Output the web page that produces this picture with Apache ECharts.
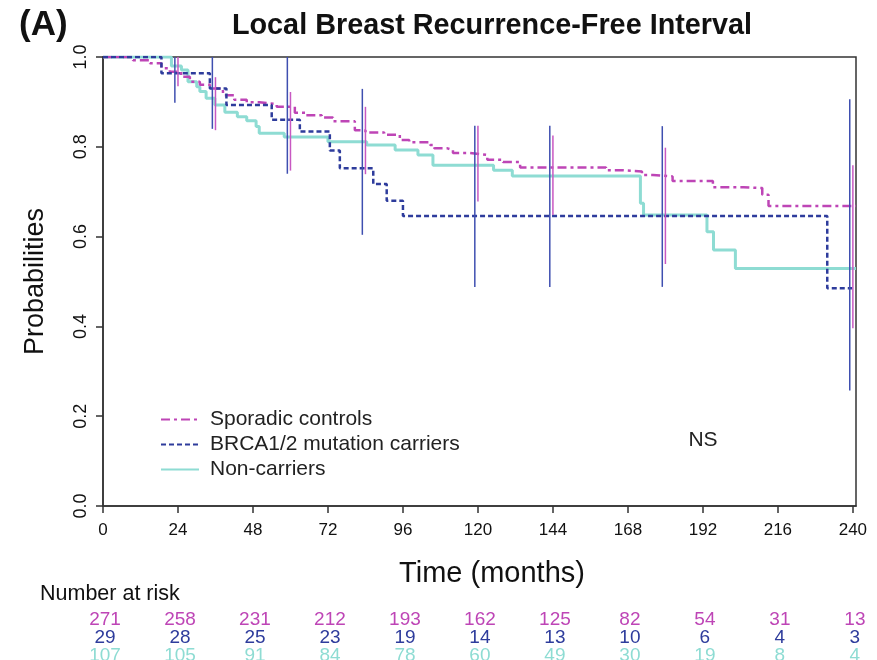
<!DOCTYPE html>
<html>
<head>
<meta charset="utf-8">
<script src="https://cdn.jsdelivr.net/npm/echarts@6/dist/echarts.min.js"></script>
<style>
html,body{margin:0;padding:0;background:#fff;}
#chart{width:877px;height:660px;}
</style>
</head>
<body>
<div id="chart"></div>
<script>
// ---- data ----
const seriesNames = ['Sporadic controls', 'BRCA1/2 mutation carriers', 'Non-carriers'];
const xTicks = [0, 24, 48, 72, 96, 120, 144, 168, 192, 216, 240];
const yTicks = [0, 0.2, 0.4, 0.6, 0.8, 1.0];

// Kaplan-Meier steps: [time, survival from that time on]
const sporadicKM = [[0,1],[9.6,0.993],[15,0.986],[18.7,0.975],[21.4,0.967],[25,0.956],[27.8,0.945],[31,0.938],[34.2,0.93],[38.4,0.915],[42,0.905],[46,0.899],[50,0.895],[55.6,0.889],[61.4,0.876],[65,0.870],[70,0.865],[73.6,0.857],[80.6,0.837],[84,0.832],[90,0.827],[95,0.815],[98,0.810],[104.7,0.804],[106,0.797],[110,0.793],[112,0.786],[117.5,0.782],[123,0.771],[128,0.766],[133.5,0.754],[161,0.748],[166,0.745],[172.5,0.737],[176,0.734],[182.3,0.724],[195.2,0.710],[205,0.708],[211,0.693],[213,0.668],[241,0.668]];
const brcaKM = [[0,1],[18.7,0.964],[34.2,0.930],[39.5,0.893],[54,0.860],[63,0.834],[72.6,0.792],[75.8,0.752],[86.5,0.717],[90.8,0.680],[96,0.646],[231.8,0.485],[239.8,0.485]];
const nonCarrierKM = [[0,1],[21.9,0.980],[25.1,0.971],[27.2,0.945],[30,0.934],[31,0.923],[33,0.908],[35.8,0.893],[39,0.877],[43,0.867],[46,0.858],[49,0.845],[50,0.830],[58,0.822],[72,0.811],[84.4,0.804],[93.5,0.793],[100.8,0.782],[105.6,0.759],[125,0.748],[131,0.735],[172,0.674],[173,0.648],[193.3,0.611],[195.4,0.570],[202.4,0.529],[241,0.529]];

// confidence-interval bars: [time, lower, upper]
const brcaCI = [[23,0.898,1.0],[35,0.840,1.0],[59,0.740,1.0],[83,0.604,0.929],[119,0.488,0.847],[143,0.488,0.847],[179,0.488,0.846],[239,0.257,0.906]];
const sporadicCI = [[24,0.935,1.0],[36,0.837,0.955],[60,0.747,0.922],[84,0.739,0.889],[120,0.678,0.847],[144,0.648,0.825],[180,0.539,0.798],[240,0.396,0.759]];

// number at risk
const riskTimes = [0, 24, 48, 72, 96, 120, 144, 168, 192, 216, 240];
const riskSporadic = [271, 258, 231, 212, 193, 162, 125, 82, 54, 31, 13];
const riskBrca = [29, 28, 25, 23, 19, 14, 13, 10, 6, 4, 3];
const riskNon = [107, 105, 91, 84, 78, 60, 49, 30, 19, 8, 4];

// ---- styles ----
const FONT = '"Liberation Sans", Arial, Helvetica, sans-serif';
const C_SPOR = '#BE45B6';
const C_BRCA = '#2E3C9C';
const C_NON = '#8EDCD3';
const C_AXIS = '#333333';

const chart = echarts.init(document.getElementById('chart'), null, {renderer: 'canvas'});

function ciSeries(name, data, color) {
  return {
    name: name, type: 'custom', data: data, z: 5,
    encode: {x: 0, y: [1, 2]},
    renderItem: function (params, api) {
      const p1 = api.coord([api.value(0), api.value(1)]);
      const p2 = api.coord([api.value(0), api.value(2)]);
      return {type: 'line', shape: {x1: p1[0], y1: p1[1], x2: p2[0], y2: p2[1]},
              style: {stroke: color, lineWidth: 1.5}};
    }
  };
}

const option = {
  backgroundColor: '#ffffff',
  animation: false,
  grid: {left: 103, right: 21, top: 57, bottom: 154, show: true, borderColor: C_AXIS, borderWidth: 1.5, backgroundColor: 'transparent'},
  xAxis: {
    type: 'value', min: 0, max: 241, interval: 24,
    name: 'Time (months)', nameLocation: 'middle', nameGap: 53,
    nameTextStyle: {fontFamily: FONT, fontSize: 29, color: '#111', padding: [0, 0, 0, 25]},
    axisLine: {show: true, lineStyle: {color: C_AXIS, width: 1.5}},
    axisTick: {show: true, length: 7, customValues: xTicks, lineStyle: {color: C_AXIS, width: 1.5}},
    axisLabel: {customValues: xTicks, margin: 16, fontFamily: FONT, fontSize: 17, color: '#111'},
    splitLine: {show: false}
  },
  yAxis: {
    type: 'value', min: 0, max: 1, interval: 0.2,
    name: 'Probabilities', nameLocation: 'middle', nameGap: 54, nameRotate: 90,
    nameTextStyle: {fontFamily: FONT, fontSize: 27, color: '#111'},
    axisLine: {show: true, lineStyle: {color: C_AXIS, width: 1.5}},
    axisTick: {show: true, length: 7, lineStyle: {color: C_AXIS, width: 1.5}},
    axisLabel: {rotate: 90, margin: 13, fontFamily: FONT, fontSize: 18, color: '#111',
                formatter: function (v) { return v.toFixed(1); }},
    splitLine: {show: false}
  },
  legend: {
    data: seriesNames, orient: 'vertical', left: 155, top: 404,
    itemWidth: 38, itemHeight: 14, itemGap: 4,
    itemStyle: {opacity: 0},
    textStyle: {fontFamily: FONT, fontSize: 21, color: '#222', lineHeight: 20, padding: [0, 0, 0, 6]}
  },
  series: [
    {name: seriesNames[0], type: 'line', step: 'end', symbol: 'none', data: sporadicKM, z: 3,
     lineStyle: {color: C_SPOR, width: 2.5, type: [9, 4, 3, 4]}, itemStyle: {color: C_SPOR}},
    {name: seriesNames[1], type: 'line', step: 'end', symbol: 'none', data: brcaKM, z: 4,
     lineStyle: {color: C_BRCA, width: 2.5, type: [5, 3]}, itemStyle: {color: C_BRCA}},
    {name: seriesNames[2], type: 'line', step: 'end', symbol: 'none', data: nonCarrierKM, z: 2,
     lineStyle: {color: C_NON, width: 3, type: 'solid'}, itemStyle: {color: C_NON}},
    ciSeries('brcaCI', brcaCI, '#3F4FB0'),
    ciSeries('sporadicCI', sporadicCI, '#C858C2')
  ]
};
chart.setOption(option);

// titles and number-at-risk table
const graphics = [
  {type: 'text', left: 19, top: 8, style: {text: '(A)', fontFamily: FONT, fontSize: 35, fontWeight: 'bold', fill: '#111'}},
  {type: 'text', x: 492, y: 26, style: {text: 'Local Breast Recurrence-Free Interval', fontFamily: FONT, fontSize: 28.8, fontWeight: 'bold', fill: '#111', textAlign: 'center', textVerticalAlign: 'middle'}},
  {type: 'text', x: 703, y: 440, style: {text: 'NS', fontFamily: FONT, fontSize: 21, fill: '#222', textAlign: 'center', textVerticalAlign: 'middle'}},
  {type: 'text', x: 40, y: 594, style: {text: 'Number at risk', fontFamily: FONT, fontSize: 21.5, fill: '#111', textAlign: 'left', textVerticalAlign: 'middle'}}
];
const rows = [[riskSporadic, C_SPOR, 620], [riskBrca, C_BRCA, 638], [riskNon, C_NON, 656]];
rows.forEach(function (r) {
  riskTimes.forEach(function (t, i) {
    const px = chart.convertToPixel({xAxisIndex: 0}, t);
    graphics.push({type: 'text', x: px + 2, y: r[2],
      style: {text: String(r[0][i]), fontFamily: FONT, fontSize: 19, fill: r[1], textAlign: 'center', textVerticalAlign: 'middle'}});
  });
});
chart.setOption({graphic: graphics});
</script>
</body>
</html>
